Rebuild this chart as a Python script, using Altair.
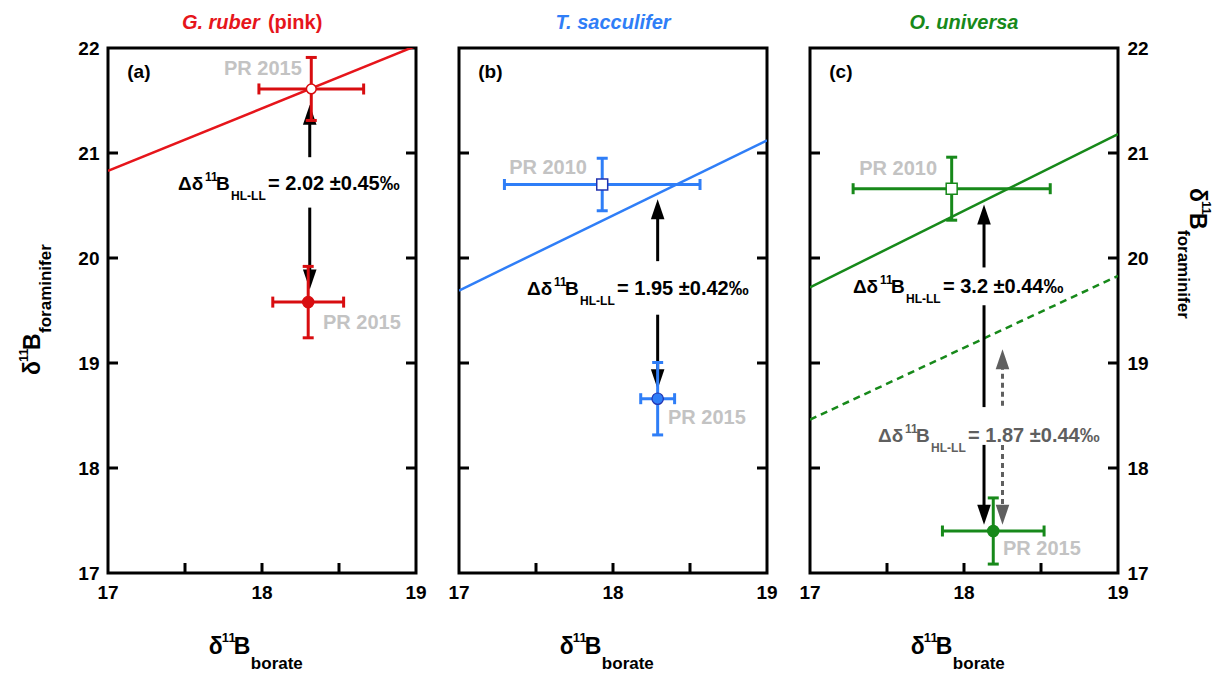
import altair as alt
import pandas as pd

FONT = "Liberation Sans"
X_DOMAIN = [17, 19]
Y_DOMAIN = [17, 22]
PANEL_W, PANEL_H, GAP = 308, 525, 43
X_PER_PX = (X_DOMAIN[1] - X_DOMAIN[0]) / PANEL_W
Y_PER_PX = (Y_DOMAIN[1] - Y_DOMAIN[0]) / PANEL_H
TICK_LEN = 10  # inner tick length, px

# ---- axis ticks ---------------------------------------------------------
x_labels = [17, 18, 19]
y_labels = [17, 18, 19, 20, 21, 22]
x_inner_ticks = [17.5, 18, 18.5]
y_inner_ticks = [18, 19, 20, 21]

# ---- panel decoration ---------------------------------------------------
panel_tags = ["(a)", "(b)", "(c)"]
tag_x, tag_y = 17.125, 21.714
species_name = ["G. ruber", "T. sacculifer", "O. universa"]
species_suffix = ["(pink)", "", ""]
species_color = ["#e6151b", "#2f7ef7", "#17891a"]
bar_color = ["#d80d10", "#2f7ef7", "#17891a"]
edge_color = ["#d80d10", "#2233b0", "#17891a"]
title_y = 22.181
title_a_left = 17.48

# ---- calibration lines (values at x = 17 and x = 19) --------------------
line_x = [17, 19]
calib_y = [[20.83, 22.02], [19.69, 21.12], [19.72, 21.18]]
calib_offset_y = [18.46, 19.83]          # dashed line, panel (c)

# ---- core-top samples ---------------------------------------------------
top_x = [18.32, 17.93, 17.92]
top_y = [21.61, 20.70, 20.66]
top_xerr = [0.34, 0.635, 0.64]
top_yerr = [0.30, 0.25, 0.30]
top_shape = ["circle", "square", "square"]
top_label = ["PR 2015", "PR 2010", "PR 2010"]
top_label_x = [17.753, 17.831, 17.825]
top_label_y = [21.743, 20.80, 20.79]
top_label_align = ["left", "right", "right"]

low_x = [18.30, 18.29, 18.19]
low_y = [19.58, 18.66, 17.40]
low_xerr = [0.23, 0.11, 0.33]
low_yerr = [0.34, 0.345, 0.315]
low_label = ["PR 2015", "PR 2015", "PR 2015"]
low_label_x = [18.396, 18.357, 18.253]
low_label_y = [19.324, 18.42, 17.171]

# ---- offset arrows ------------------------------------------------------
arrow_x = [18.31, 18.29, 18.13]
arrow_up_tip = [21.46, 20.56, 20.51]
arrow_down_tip = [19.70, 18.75, 17.46]
arrow_shaft = [
    [(21.40, 20.96), (20.48, 19.76)],
    [(20.50, 19.97), (19.46, 18.81)],
    [(20.45, 19.91), (19.55, 18.58), (18.22, 17.52)],
]
shift_arrow_x = 18.25
shift_arrow_up_tip = 19.13
shift_arrow_down_tip = 17.46
shift_arrow_shaft = [(19.07, 18.56), (18.22, 17.52)]

# ---- offset labels ------------------------------------------------------
delta_x = [17.455, 17.442, 17.279]
delta_y = [20.648, 19.648, 19.667]
delta_value = ["= 2.02 \u00b10.45\u2030", "= 1.95 \u00b10.42\u2030", "= 3.2 \u00b10.44\u2030"]
shift_delta_x, shift_delta_y = 17.442, 18.248
shift_delta_value = "= 1.87 \u00b10.44\u2030"

# ---- axis titles --------------------------------------------------------
xtitle_x, xtitle_y = 17.655, 16.229
ytitle_left_x, ytitle_left_y = 16.558, 18.886
ytitle_right_x, ytitle_right_y = 19.4675, 20.667

GRAY_LABEL = "#c3c3c3"
GRAY_ARROW = "#5f5f5f"
UP_HEAD = "M0,0L0.34,1L-0.34,1Z"
DOWN_HEAD = "M0,0L0.34,-1L-0.34,-1Z"
HEAD_SIZE = 1600

# text pieces: (text, dx, dy, size)
DELTA_PIECES = [("\u0394\u03b4", 0, 0, 19), ("11", 27, -9, 12),
                ("B", 38, 0, 19), ("HL-LL", 53, 10, 12)]
VALUE_DX = 90


def axis_title_pieces(sub, sub_dy):
    return [("\u03b4", 0, 0, 23), ("11", 13, -12, 13), ("B", 25, 0, 23), (sub, 42, sub_dy, 17)]


def build_panel(i):
    xs = alt.Scale(domain=X_DOMAIN, nice=False, zero=False)
    ys = alt.Scale(domain=Y_DOMAIN, nice=False, zero=False)
    if i == 1:
        yaxis = None
    else:
        yaxis = alt.Axis(values=y_labels, orient="left" if i == 0 else "right",
                         labelPadding=9, ticks=False, domain=False, grid=False, format="d",
                         labelFont=FONT, labelFontSize=19, labelFontWeight="bold",
                         labelColor="black", labelFlush=False, labelOverlap=False, title=None)

    def pos(x2=False, y2=False):
        e = {"x": alt.X("x", type="quantitative", scale=xs, axis=None),
             "y": alt.Y("y", type="quantitative", scale=ys, axis=yaxis)}
        if x2:
            e["x2"] = alt.X2("x2")
        if y2:
            e["y2"] = alt.Y2("y2")
        return e

    def text(x, y, s, size, color, dx=0, dy=0, align="left", angle=0, italic=False):
        kw = dict(text=s, align=align, baseline="alphabetic", dx=dx, dy=dy, fontSize=size,
                  font=FONT, fontWeight="bold", color=color)
        if angle:
            kw["angle"] = angle
        if italic:
            kw["fontStyle"] = "italic"
        return alt.Chart(pd.DataFrame({"x": [x], "y": [y]})).mark_text(**kw).encode(**pos())

    def rich(x, y, pieces, color, angle=0):
        return [text(x, y, s, size, color, dx=dx, dy=dy, angle=angle) for s, dx, dy, size in pieces]

    layers = []
    col = species_color[i]

    # x tick labels under the frame
    xl = pd.DataFrame({"x": x_labels, "y": [Y_DOMAIN[0]] * len(x_labels),
                       "t": [str(v) for v in x_labels]})
    layers.append(alt.Chart(xl).mark_text(align="center", baseline="top", dy=11, fontSize=19,
                                          font=FONT, fontWeight="bold", color="black")
                  .encode(text="t:N", **pos()))

    # inner ticks on all sides but the top
    xt = pd.DataFrame({"x": x_inner_ticks, "y": [Y_DOMAIN[0]] * len(x_inner_ticks),
                       "y2": [Y_DOMAIN[0] + TICK_LEN * Y_PER_PX] * len(x_inner_ticks)})
    layers.append(alt.Chart(xt).mark_rule(color="black", strokeWidth=3).encode(**pos(y2=True)))
    for x0, x1 in [(X_DOMAIN[0], X_DOMAIN[0] + TICK_LEN * X_PER_PX),
                   (X_DOMAIN[1] - TICK_LEN * X_PER_PX, X_DOMAIN[1])]:
        yt = pd.DataFrame({"x": [x0] * len(y_inner_ticks), "x2": [x1] * len(y_inner_ticks),
                           "y": y_inner_ticks})
        layers.append(alt.Chart(yt).mark_rule(color="black", strokeWidth=3).encode(**pos(x2=True)))

    # calibration lines
    layers.append(alt.Chart(pd.DataFrame({"x": line_x, "y": calib_y[i]}))
                  .mark_line(color=col, strokeWidth=2.5, clip=True).encode(**pos()))
    if i == 2:
        layers.append(alt.Chart(pd.DataFrame({"x": line_x, "y": calib_offset_y}))
                      .mark_line(color=col, strokeWidth=2.5, strokeDash=[7, 5], clip=True)
                      .encode(**pos()))

    # arrows
    def arrow(x, up_tip, down_tip, shafts, color, dash=None):
        out = []
        sh = pd.DataFrame({"x": [x] * len(shafts), "y": [a for a, b in shafts],
                           "y2": [b for a, b in shafts]})
        kw = dict(color=color, strokeWidth=3)
        if dash:
            kw["strokeDash"] = dash
        out.append(alt.Chart(sh).mark_rule(**kw).encode(**pos(y2=True)))
        for tip, shape in [(up_tip, UP_HEAD), (down_tip, DOWN_HEAD)]:
            out.append(alt.Chart(pd.DataFrame({"x": [x], "y": [tip]}))
                       .mark_point(shape=shape, size=HEAD_SIZE, filled=True, color=color,
                                   opacity=1, strokeWidth=0).encode(**pos()))
        return out

    layers += arrow(arrow_x[i], arrow_up_tip[i], arrow_down_tip[i], arrow_shaft[i], "black")
    if i == 2:
        layers += arrow(shift_arrow_x, shift_arrow_up_tip, shift_arrow_down_tip,
                        shift_arrow_shaft, GRAY_ARROW, dash=[5, 4])

    # error bars and markers
    for (px, py, ex, ey, filled, shape) in [
        (top_x[i], top_y[i], top_xerr[i], top_yerr[i], False, top_shape[i]),
        (low_x[i], low_y[i], low_xerr[i], low_yerr[i], True, "circle"),
    ]:
        hb = pd.DataFrame({"x": [px - ex], "x2": [px + ex], "y": [py]})
        vb = pd.DataFrame({"x": [px], "y": [py - ey], "y2": [py + ey]})
        layers.append(alt.Chart(hb).mark_rule(color=bar_color[i], strokeWidth=3).encode(**pos(x2=True)))
        layers.append(alt.Chart(vb).mark_rule(color=bar_color[i], strokeWidth=3).encode(**pos(y2=True)))
        hc = pd.DataFrame({"x": [px - ex, px + ex], "y": [py, py]})
        vc = pd.DataFrame({"x": [px, px], "y": [py - ey, py + ey]})
        layers.append(alt.Chart(hc).mark_tick(orient="vertical", size=11, thickness=3,
                                              color=bar_color[i], opacity=1).encode(**pos()))
        layers.append(alt.Chart(vc).mark_tick(orient="horizontal", size=11, thickness=3,
                                              color=bar_color[i], opacity=1).encode(**pos()))
        pt = pd.DataFrame({"x": [px], "y": [py]})
        if filled:
            layers.append(alt.Chart(pt).mark_point(shape="circle", size=130, filled=True,
                                                   fill=bar_color[i], stroke=edge_color[i],
                                                   strokeWidth=1.2, opacity=1).encode(**pos()))
        else:
            layers.append(alt.Chart(pt).mark_point(shape=shape, size=120 if shape == "square" else 95,
                                                   filled=True, fill="white", stroke=edge_color[i],
                                                   strokeWidth=1.5, opacity=1).encode(**pos()))

    # sample labels
    layers.append(text(top_label_x[i], top_label_y[i], top_label[i], 20, GRAY_LABEL,
                       align=top_label_align[i]))
    layers.append(text(low_label_x[i], low_label_y[i], low_label[i], 20, GRAY_LABEL))

    # offset labels
    layers += rich(delta_x[i], delta_y[i], DELTA_PIECES, "black")
    layers.append(text(delta_x[i], delta_y[i], delta_value[i], 20, "black", dx=VALUE_DX))
    if i == 2:
        layers += rich(shift_delta_x, shift_delta_y, DELTA_PIECES, GRAY_ARROW)
        layers.append(text(shift_delta_x, shift_delta_y, shift_delta_value, 20, GRAY_ARROW, dx=VALUE_DX))

    # panel tag and species title
    layers.append(text(tag_x, tag_y, panel_tags[i], 19, "black"))
    if i == 0:
        layers.append(text(title_a_left, title_y, species_name[i], 20, col, italic=True))
        layers.append(text(title_a_left, title_y, species_suffix[i], 20, col, dx=86))
    else:
        layers.append(text(18, title_y, species_name[i], 20, col, align="center", italic=True))

    # axis titles
    layers += rich(xtitle_x, xtitle_y, axis_title_pieces("borate", 15), "black")
    if i == 0:
        layers += rich(ytitle_left_x, ytitle_left_y,
                       axis_title_pieces("foraminifer", 11), "black", angle=270)
    if i == 2:
        layers += rich(ytitle_right_x, ytitle_right_y,
                       axis_title_pieces("foraminifer", 12), "black", angle=90)

    return alt.layer(*layers).properties(width=PANEL_W, height=PANEL_H)


chart = (
    alt.hconcat(*[build_panel(i) for i in range(3)], spacing=GAP, bounds="flush")
    .properties(padding={"left": 16, "top": 11, "right": 5, "bottom": 5})
    .configure_view(stroke="black", strokeWidth=3)
)

chart.save("out.html", embed_options={"renderer": "svg", "actions": False})
